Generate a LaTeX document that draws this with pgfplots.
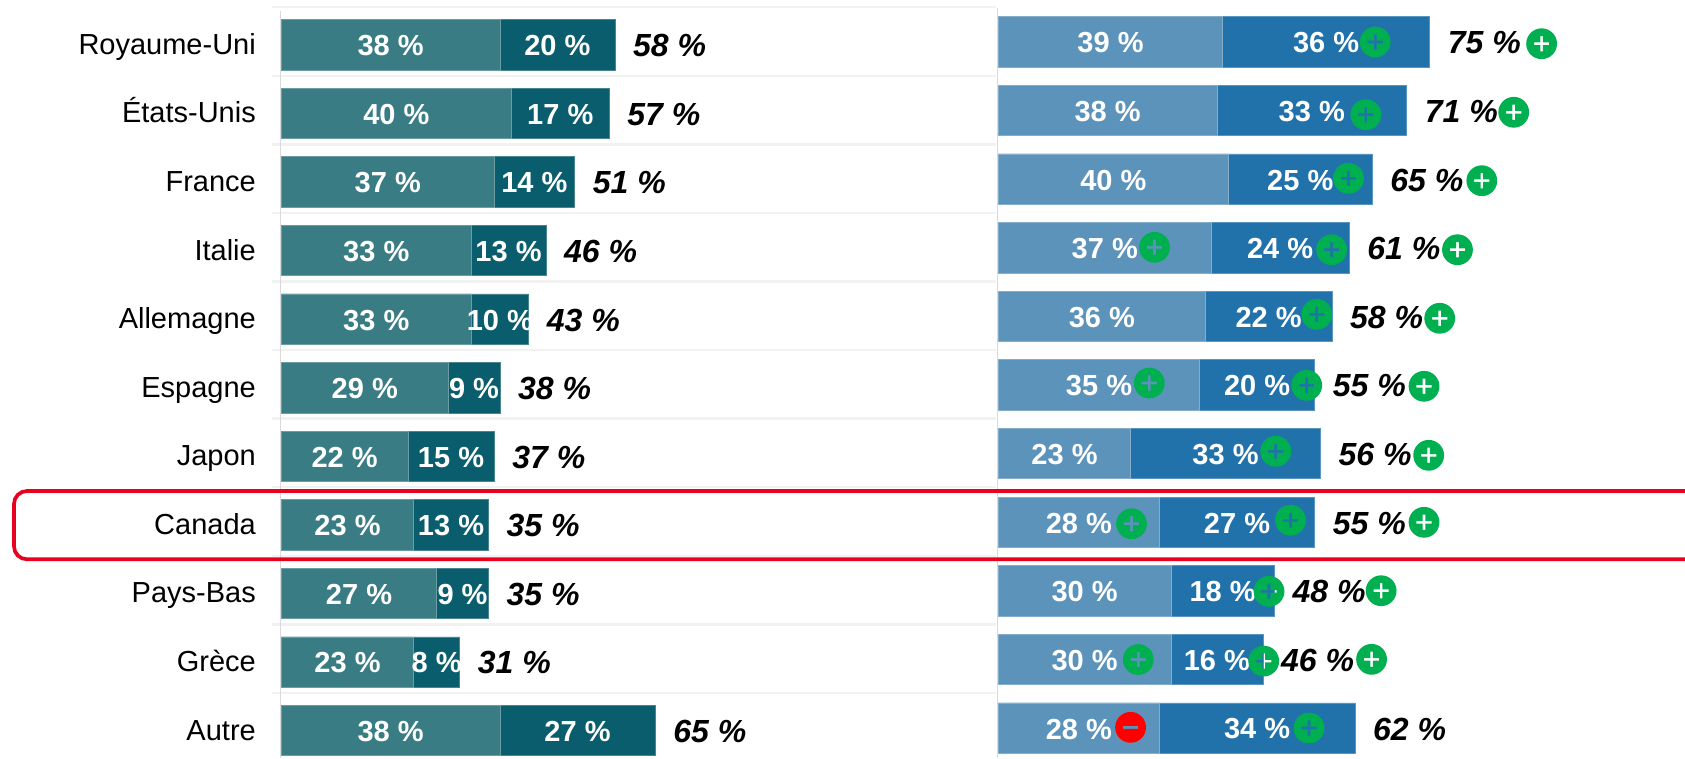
\documentclass[border=0pt]{standalone}
\usepackage{fontspec}
\setmainfont{Liberation Sans}
\usepackage{pgfplots}
\usepackage{pgfplotstable}
\pgfplotsset{compat=1.18}

\definecolor{tealA}{HTML}{3A7C84}
\definecolor{tealB}{HTML}{0A5D6D}
\definecolor{blueA}{HTML}{5C93BA}
\definecolor{blueB}{HTML}{2172AB}
\definecolor{badgegreen}{HTML}{00B050}
\definecolor{badgered}{HTML}{FF0000}
\definecolor{boxred}{HTML}{E8001E}
\definecolor{gridlight}{HTML}{F2F2F2}
\definecolor{axisgray}{HTML}{D9D9D9}

% round badges, the sign is a hole so the bar shows through
\pgfdeclareplotmark{badgeplus}{%
  \pgfpathcircle{\pgfpointorigin}{15.4pt}%
  \pgfpathmoveto{\pgfpoint{-7.6pt}{-1.3pt}}%
  \pgfpathlineto{\pgfpoint{-1.3pt}{-1.3pt}}%
  \pgfpathlineto{\pgfpoint{-1.3pt}{-7.6pt}}%
  \pgfpathlineto{\pgfpoint{1.3pt}{-7.6pt}}%
  \pgfpathlineto{\pgfpoint{1.3pt}{-1.3pt}}%
  \pgfpathlineto{\pgfpoint{7.6pt}{-1.3pt}}%
  \pgfpathlineto{\pgfpoint{7.6pt}{1.3pt}}%
  \pgfpathlineto{\pgfpoint{1.3pt}{1.3pt}}%
  \pgfpathlineto{\pgfpoint{1.3pt}{7.6pt}}%
  \pgfpathlineto{\pgfpoint{-1.3pt}{7.6pt}}%
  \pgfpathlineto{\pgfpoint{-1.3pt}{1.3pt}}%
  \pgfpathlineto{\pgfpoint{-7.6pt}{1.3pt}}%
  \pgfpathclose
  \pgfseteorule
  \pgfusepathqfill}
\pgfdeclareplotmark{badgeminus}{%
  \pgfpathcircle{\pgfpointorigin}{15.4pt}%
  \pgfpathrectangle{\pgfpoint{-7.6pt}{-1.5pt}}{\pgfpoint{15.2pt}{3pt}}%
  \pgfseteorule
  \pgfusepathqfill}

% row, first segment, second segment, printed total
\pgfplotstableread{
r a  b  t
0 38 20 58
1 40 17 57
2 37 14 51
3 33 13 46
4 33 10 43
5 29 9  38
6 22 15 37
7 23 13 35
8 27 9  35
9 23 8  31
10 38 27 65
}\leftdata
\pgfplotstableread{
r a  b  t
0 39 36 75
1 38 33 71
2 40 25 65
3 37 24 61
4 36 22 58
5 35 20 55
6 23 33 56
7 28 27 55
8 30 18 48
9 30 16 46
10 28 34 62
}\rightdata

\pgfplotsset{
  panel/.style={
    scale only axis,
    y dir=reverse,
    clip=false,
    axis line style={draw=none},
    major tick length=0pt,
    minor tick length=0pt,
    xtick=\empty,
    yminorgrids=true,
    minor y grid style={gridlight, line width=2.5pt},
  },
  base/.style={axisgray, line width=1.5pt, forget plot},
  seg/.style={xbar, bar width=50.3pt, bar shift=0pt, fill=#1, draw=#1!75!white, line width=0.6pt, forget plot},
  inbar/.style={
    draw=none, mark=none, forget plot,
    point meta=explicit symbolic,
    nodes near coords={\pgfplotspointmeta~\%},
    every node near coord/.style={
      anchor=center, inner sep=0pt, yshift=-1pt, text=white,
      font=\fontsize{29}{29}\selectfont\bfseries},
  },
  total/.style={
    draw=none, mark=none, forget plot,
    point meta=explicit symbolic,
    nodes near coords={\pgfplotspointmeta~\%},
    every node near coord/.style={
      anchor=west, inner sep=0pt, xshift=18pt, yshift=-1pt, text=black,
      font=\fontsize{32}{32}\selectfont\bfseries\itshape},
  },
  badge/.style={only marks, mark=#1, forget plot},
}

\begin{document}
\begin{tikzpicture}[x=1pt,y=1pt]
\path[use as bounding box] (0,0) rectangle (1685,-758);
\clip (0,0) rectangle (1685,-758);

\begin{axis}[
    panel,
    anchor=north west,
    at={(272pt,-7pt)},
    width=724pt,
    height=751pt,
    xmin=-1.635, xmax=124.278,
    ymin=-0.551, ymax=10.401,
    ytick={0,...,10},
    yticklabels={Royaume-Uni,États-Unis,France,Italie,Allemagne,Espagne,Japon,Canada,Pays-Bas,Grèce,Autre},
    yticklabel style={anchor=east, inner sep=0pt, xshift=-16pt, yshift=1pt,
      text height=21pt, text depth=0pt, font=\fontsize{29}{29}\selectfont},
    minor ytick={-0.548,0.452,1.452,2.452,3.452,4.452,5.452,6.452,7.452,8.452,9.452},
]
\addplot[base] coordinates {(-0.2,-0.5) (-0.2,10.401)};
\addplot[seg=tealB] table[x expr=\thisrow{a}+\thisrow{b}, y=r] {\leftdata};
\addplot[seg=tealA] table[x=a, y=r] {\leftdata};
\addplot[inbar] table[x expr=\thisrow{a}/2, y=r, meta=a] {\leftdata};
\addplot[inbar] table[x expr=\thisrow{a}+\thisrow{b}/2, y=r, meta=b] {\leftdata};
\addplot[total] table[x expr=\thisrow{a}+\thisrow{b}, y=r, meta=t] {\leftdata};
\end{axis}

\begin{axis}[
    panel,
    anchor=north west,
    at={(996pt,-7pt)},
    width=689pt,
    height=751pt,
    xmin=-0.417, xmax=119.41,
    ymin=-0.507, ymax=10.437,
    ytick=\empty,
    minor ytick={-0.504,0.496,1.496,2.496,3.496,4.496,5.496,6.496,7.496,8.496,9.496},
]
\addplot[base] coordinates {(-0.2,-0.49) (-0.2,10.437)};
\addplot[seg=blueB] table[x expr=\thisrow{a}+\thisrow{b}, y=r] {\rightdata};
\addplot[seg=blueA] table[x=a, y=r] {\rightdata};
\addplot[inbar] table[x expr=\thisrow{a}/2, y=r, meta=a] {\rightdata};
\addplot[inbar] table[x expr=\thisrow{a}+\thisrow{b}/2, y=r, meta=b] {\rightdata};
\addplot[total] table[x expr=\thisrow{a}+\thisrow{b}, y=r, meta=t] {\rightdata};
\addplot[badge=badgeplus, badgegreen] coordinates {
  (65.53,0.003) (94.47,0.028)
  (63.90,1.062) (89.62,1.027)
  (60.89,1.989) (84.07,2.024)
  (27.15,2.995) (57.95,3.030) (79.84,3.030)
  (55.36,3.971) (76.75,4.029)
  (26.24,4.972) (53.62,5.006) (74.02,5.020)
  (48.23,5.968) (74.83,6.026)
  (23.15,7.023) (50.80,6.973) (74.02,7.002)
  (47.06,8.008) (66.56,7.999)
  (24.33,9.002) (46.14,9.024) (64.90,8.999)
  (54.02,10.000)
};
\addplot[badge=badgeminus, badgered] coordinates {(22.99,9.990)};
\end{axis}

% highlight round the Canada row
\draw[boxred, line width=3.7pt, rounded corners=13pt] (1700,-491) -- (14,-491) -- (14,-559.3) -- (1700,-559.3);
\end{tikzpicture}
\end{document}
